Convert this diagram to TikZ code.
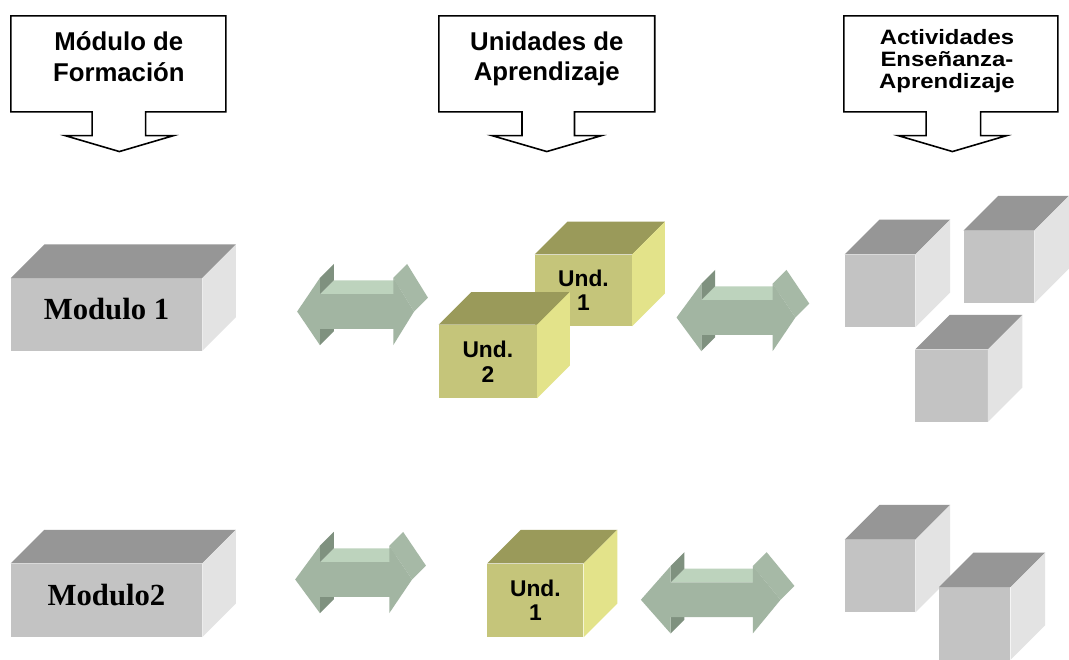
\documentclass[tikz,border=0pt]{standalone}
\usepackage{fontspec}
\setmainfont{Liberation Serif}
\setsansfont{Liberation Sans}
\definecolor{graytop}{HTML}{969696}
\definecolor{grayfront}{HTML}{C3C3C3}
\definecolor{grayside}{HTML}{E3E3E3}
\definecolor{oltop}{HTML}{9A9A5A}
\definecolor{olfront}{HTML}{C5C57A}
\definecolor{olside}{HTML}{E3E38A}
\definecolor{artop}{HTML}{BDD3BD}
\definecolor{arfront}{HTML}{A2B5A2}
\definecolor{ardark}{HTML}{7F917F}
\definecolor{arside}{HTML}{A6B9A6}

% top and right faces of a block whose front face is node #1
\newcommand\blockfaces[3]{%
  \fill[#3top] (#1.north west) -- ++(#2,-#2) -- ([shift={(#2,-#2)}]#1.north east) -- (#1.north east) -- cycle;
  \fill[#3side] (#1.north east) -- ++(#2,-#2) -- ([shift={(#2,-#2)}]#1.south east) -- (#1.south east) -- cycle;
}
% extruded double arrow: name, left tip x, centre y, left head back x, right head back x, right tip x
\newcommand\greenarrow[6]{%
  \coordinate (#1-l) at (#2,#3);
  \coordinate (#1-r) at (#6,#3);
  \fill[artop] (#4,#3-17.5) -- (#5,#3-17.5) -- (#5+14,#3-31.5) -- (#4+14,#3-31.5) -- cycle;
  \fill[ardark] (#4,#3-34) -- (#4+14,#3-48) -- (#4+14,#3-31.5) -- (#4,#3-17.5) -- cycle;
  \fill[ardark] (#4,#3+17.5) -- (#4,#3+34) -- (#4+14,#3+20) -- (#4+14,#3+3.5) -- cycle;
  \fill[arside] (#5,#3-34) -- (#6,#3) -- (#6+14,#3-14) -- (#5+14,#3-48) -- cycle;
  \fill[arfront] (#1-l) -- (#4,#3-34) -- (#4,#3-17.5) -- (#5,#3-17.5) -- (#5,#3-34)
    -- (#1-r) -- (#5,#3+34) -- (#5,#3+17.5) -- (#4,#3+17.5) -- (#4,#3+34) -- cycle;
}

\begin{document}
\begin{tikzpicture}[x=1pt,y=-1pt,
  callout/.style={draw=black,line width=1.6pt,fill=white,line join=miter},
  head/.style={font=\sffamily\bfseries\fontsize{26}{31}\selectfont,align=center,inner sep=0pt},
  headsmall/.style={font=\sffamily\bfseries\fontsize{21}{22}\selectfont,inner sep=0pt},
  modfront/.style={fill=grayfront,inner sep=0pt,minimum width=193pt,minimum height=73pt,
    font=\bfseries\fontsize{31}{36}\selectfont,text height=21pt,text depth=10pt},
  undfront/.style={fill=olfront,inner sep=0pt,font=\sffamily\bfseries\fontsize{23}{25}\selectfont,align=center},
  cubefront/.style={fill=grayfront,inner sep=0pt,minimum width=71pt,minimum height=73pt}]

\fill[white] (0,0) rectangle (1069,661);

% column headings
\draw[callout] (11,16) -- (228,16) -- (228,113) -- (147,113) -- (147,137) -- (175,137)
  -- (120.5,153) -- (66,137) -- (93,137) -- (93,113) -- (11,113) -- cycle;
\node[head] (h1) at (120,57) {Módulo de\\Formación};

\draw[callout] (443,16) -- (661,16) -- (661,113) -- (580,113) -- (580,137) -- (607,137)
  -- (552,153) -- (497,137) -- (527,137) -- (527,113) -- (443,113) -- cycle;
\node[head] (h2) at (552,59.5) {Unidades de\\Aprendizaje};

\draw[callout] (852,16) -- (1068,16) -- (1068,113) -- (990,113) -- (990,137) -- (1016,137)
  -- (961.5,153) -- (907,137) -- (935,137) -- (935,113) -- (852,113) -- cycle;
\node[headsmall] (h3) at (956,63) {\scalebox{1.15}[1]{\begin{tabular}{@{}c@{}}Actividades\\Enseñanza-\\Aprendizaje\end{tabular}}};

% training modules
\node[modfront] (m1) at (107.5,317.5) {Modulo 1};
\blockfaces{m1}{34}{gray}
\node[modfront,minimum height=74pt] (m2) at (107.5,606) {Modulo2};
\blockfaces{m2}{34}{gray}

% learning units
\node[undfront,minimum width=98pt,minimum height=72pt] (u11) at (589,293) {Und.\\1};
\blockfaces{u11}{33}{ol}
\node[undfront,minimum width=99pt,minimum height=74pt] (u12) at (492.5,365) {Und.\\2};
\blockfaces{u12}{33}{ol}
\node[undfront,minimum width=97pt,minimum height=74pt] (u21) at (540.5,606) {Und.\\1};
\blockfaces{u21}{34}{ol}

% teaching-learning activities
\node[cubefront] (a1) at (888.5,293.5) {};
\blockfaces{a1}{35}{gray}
\node[cubefront] (a2) at (1008.5,269.5) {};
\blockfaces{a2}{35}{gray}
\node[cubefront,minimum width=73pt] (a3) at (960.5,389.5) {};
\blockfaces{a3}{35}{gray}
\node[cubefront] (a4) at (888.5,581.5) {};
\blockfaces{a4}{35}{gray}
\node[cubefront,minimum width=72pt] (a5) at (984,629.5) {};
\blockfaces{a5}{35}{gray}

% links between columns
\greenarrow{g1}{300}{314.5}{323}{397}{418}
\greenarrow{g2}{683}{320.5}{708}{780}{803}
\greenarrow{g3}{298}{585}{323}{393}{416}
\greenarrow{g4}{647}{605.5}{677}{760}{788}
\end{tikzpicture}
\end{document}
